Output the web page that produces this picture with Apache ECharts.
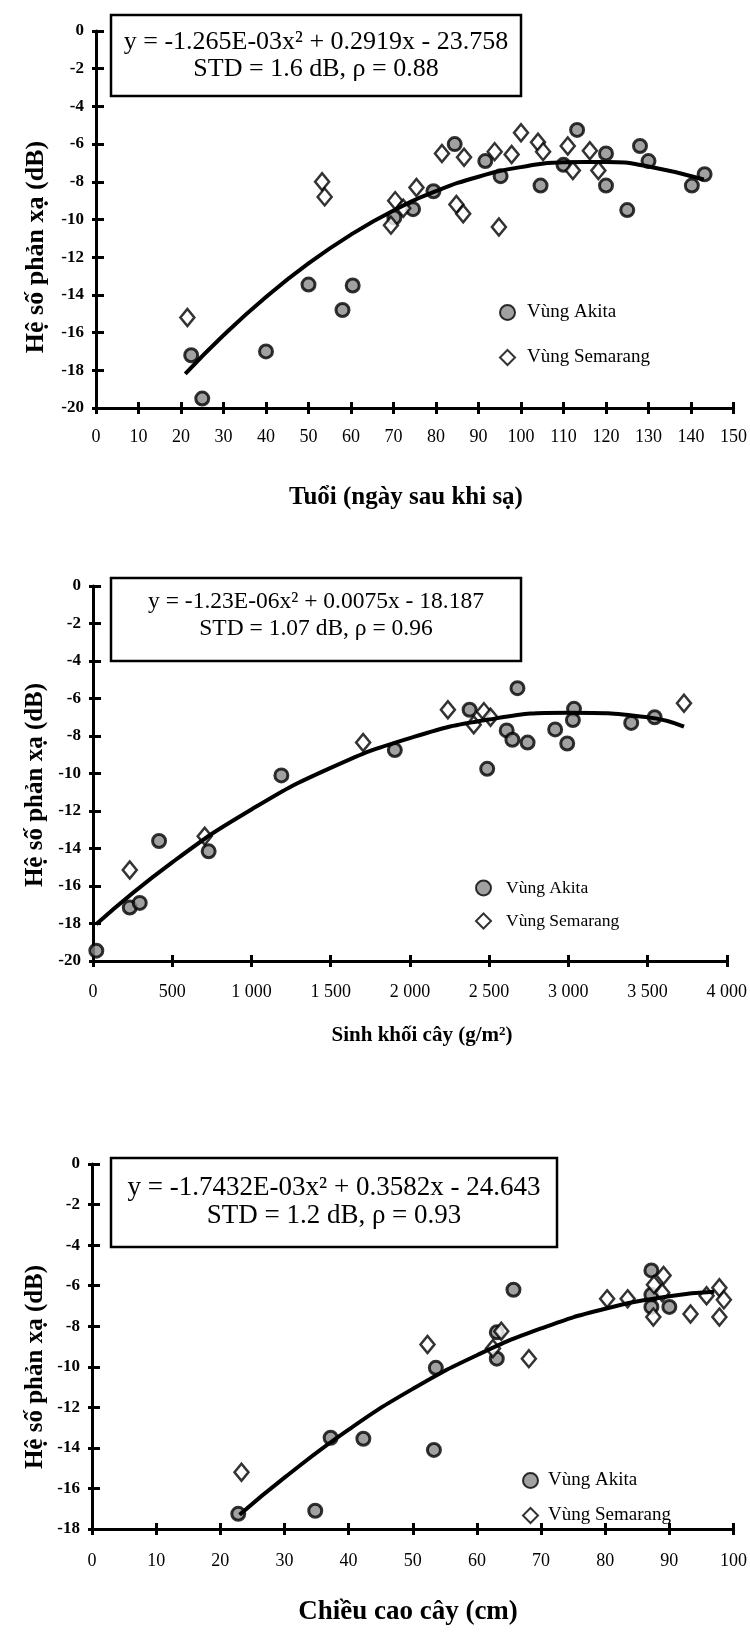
<!DOCTYPE html>
<html><head><meta charset="utf-8">
<script src="https://cdn.jsdelivr.net/npm/echarts@6/dist/echarts.min.js"></script>
<style>html,body{margin:0;padding:0;background:#fff}#c{width:750px;height:1634px}</style>
</head><body><div id="c"></div>
<script>
// ---------- Chart 1: Tuổi (ngày sau khi sạ) ----------
const ageAkitaX = [22.4, 25, 40, 50, 58, 60.4, 70.2, 74.6, 79.4, 84.4, 91.6, 95.2, 104.6, 110, 113.2, 120, 120, 125, 128, 130, 140.2, 143.2];
const ageAkitaY = [-17.2, -19.5, -17.0, -13.45, -14.8, -13.5, -9.9, -9.45, -8.5, -6.0, -6.9, -7.7, -8.2, -7.1, -5.25, -6.5, -8.2, -9.5, -6.1, -6.9, -8.2, -7.6];
const ageSemX = [21.5, 53.2, 53.8, 69.4, 70.4, 72.3, 75.4, 81.4, 84.8, 86.4, 86.6, 93.8, 94.8, 97.8, 100, 104, 105.2, 111, 112.2, 116.2, 118.2];
const ageSemY = [-15.2, -8.0, -8.8, -10.3, -9.0, -9.4, -8.3, -6.5, -9.2, -9.7, -6.7, -6.4, -10.4, -6.55, -5.4, -5.9, -6.4, -6.1, -7.4, -6.35, -7.4];
const ageFitX = [21, 30, 40, 50, 60, 70, 80, 90, 100, 110, 120, 130, 143];
const ageFitY = [-18.19, -16.14, -14.11, -12.33, -10.8, -9.52, -8.5, -7.73, -7.22, -6.96, -6.95, -7.19, -7.88];
const ageXTicks = ['0','10','20','30','40','50','60','70','80','90','100','110','120','130','140','150'];

// ---------- Chart 2: Sinh khối cây (g/m2) ----------
const bioAkitaX = [21, 232, 295, 417, 730, 1189, 1905, 2377, 2488, 2611, 2647, 2743, 2679, 2917, 2993, 3036, 3029, 3397, 3545];
const bioAkitaY = [-19.45, -17.15, -16.9, -13.6, -14.15, -10.1, -8.75, -6.6, -9.75, -7.7, -8.2, -8.35, -5.45, -7.65, -8.4, -6.55, -7.15, -7.3, -7.0];
const bioSemX = [232, 705, 1705, 2240, 2403, 2467, 2509, 3730];
const bioSemY = [-15.15, -13.35, -8.35, -6.6, -7.4, -6.7, -7.0, -6.25];
const bioFitX = [20, 500, 1000, 1500, 2000, 2500, 3000, 3500, 3730];
const bioFitY = [-18.04, -14.74, -11.92, -9.7, -8.11, -7.12, -6.76, -7.0, -7.5];
const bioXTicks = ['0','500','1 000','1 500','2 000','2 500','3 000','3 500','4 000'];

// ---------- Chart 3: Chiều cao cây (cm) ----------
const hgtAkitaX = [22.8, 34.8, 37.2, 42.3, 53.3, 53.6, 63.1, 63.1, 65.7, 87.2, 87.2, 87.2, 90];
const hgtAkitaY = [-17.25, -17.1, -13.5, -13.55, -14.1, -10.05, -8.3, -9.6, -6.2, -5.25, -6.45, -7.05, -7.05];
const hgtSemX = [23.3, 52.3, 62.5, 63.8, 68.1, 80.3, 83.5, 87.6, 89.1, 88.9, 87.5, 93.3, 95.8, 97.8, 98.5, 97.8];
const hgtSemY = [-15.2, -8.9, -9.1, -8.25, -9.6, -6.65, -6.65, -5.95, -5.5, -6.35, -7.55, -7.4, -6.5, -6.1, -6.7, -7.55];
const hgtFitX = [23, 30, 40, 50, 60, 70, 80, 90, 97];
const hgtFitY = [-17.3, -15.47, -13.1, -11.09, -9.43, -8.11, -7.14, -6.52, -6.3];
const hgtXTicks = ['0','10','20','30','40','50','60','70','80','90','100'];

const yTitle = 'Hệ số phản xạ (dB)';
const xTitles = ['Tuổi (ngày sau khi sạ)', '{b|Sinh khối cây (g/m}{s|2}{b|)}', 'Chiều cao cây (cm)'];
const eqLines = [
  ['y = -1.265E-03x² + 0.2919x - 23.758', 'STD = 1.6 dB, ρ = 0.88'],
  ['y = -1.23E-06x² + 0.0075x - 18.187', 'STD = 1.07 dB, ρ = 0.96'],
  ['y = -1.7432E-03x² + 0.3582x - 24.643', 'STD = 1.2 dB, ρ = 0.93']
];
const legendNames = ['Vùng Akita', 'Vùng Semarang'];

const SERIF = '"Liberation Serif", "Times New Roman", serif';
const pairs = (xs, ys) => xs.map((x, i) => [x, ys[i]]);

const grids = [
  { left: 96, right: 8, top: 31, height: 377 },
  { left: 93, right: 12, top: 586, height: 375 },
  { left: 92, right: 14, top: 1164, height: 365 }
];
const xSpec = [
  { min: 0, max: 150, interval: 10, labels: ageXTicks, margin: 20 },
  { min: 0, max: 4000, interval: 500, labels: bioXTicks, margin: 22 },
  { min: 0, max: 100, interval: 10, labels: hgtXTicks, margin: 23 }
];
const ySpec = [
  { min: -20, max: 0, interval: 2 },
  { min: -20, max: 0, interval: 2 },
  { min: -18, max: 0, interval: 2 }
];

const xAxes = [], yAxes = [];
xSpec.forEach((s, g) => {
  xAxes.push({
    type: 'value', gridIndex: g, position: 'bottom', min: s.min, max: s.max, interval: s.interval,
    axisLine: { show: true, onZero: false, lineStyle: { color: '#000', width: 3 } },
    axisTick: { show: true, inside: false, length: 6, lineStyle: { color: '#000', width: 3 } },
    splitLine: { show: false },
    axisLabel: { margin: s.margin, color: '#000', fontFamily: SERIF, fontSize: 18,
      formatter: (v) => s.labels[Math.round((v - s.min) / s.interval)] }
  });
  xAxes.push({
    type: 'value', gridIndex: g, position: 'bottom', min: s.min, max: s.max, interval: s.interval,
    axisLine: { show: false, onZero: false },
    axisTick: { show: true, inside: true, length: 6, lineStyle: { color: '#000', width: 3 } },
    splitLine: { show: false }, axisLabel: { show: false }
  });
});
ySpec.forEach((s, g) => {
  yAxes.push({
    type: 'value', gridIndex: g, position: 'left', min: s.min, max: s.max, interval: s.interval,
    axisLine: { show: true, onZero: false, lineStyle: { color: '#000', width: 3 } },
    axisTick: { show: true, inside: false, length: 4, lineStyle: { color: '#000', width: 3 } },
    splitLine: { show: false },
    axisLabel: { margin: 12, color: '#000', fontFamily: SERIF, fontSize: 17, fontWeight: 'bold' }
  });
  yAxes.push({
    type: 'value', gridIndex: g, position: 'left', min: s.min, max: s.max, interval: s.interval,
    axisLine: { show: false, onZero: false },
    axisTick: { show: true, inside: true, length: 8, lineStyle: { color: '#000', width: 3 } },
    splitLine: { show: false }, axisLabel: { show: false }
  });
});

const akitaStyle = { color: '#8a8a8a', borderColor: '#000', borderWidth: 3 };
const semStyle = { color: '#fff', borderColor: '#000', borderWidth: 2.5 };
const datasets = [
  [ageAkitaX, ageAkitaY, ageSemX, ageSemY, ageFitX, ageFitY],
  [bioAkitaX, bioAkitaY, bioSemX, bioSemY, bioFitX, bioFitY],
  [hgtAkitaX, hgtAkitaY, hgtSemX, hgtSemY, hgtFitX, hgtFitY]
];
const series = [];
datasets.forEach((d, g) => {
  series.push({ name: legendNames[0], type: 'scatter', xAxisIndex: 2 * g, yAxisIndex: 2 * g,
    symbol: 'circle', symbolSize: 13, itemStyle: akitaStyle, data: pairs(d[0], d[1]), z: 3 });
  series.push({ name: legendNames[1], type: 'scatter', xAxisIndex: 2 * g, yAxisIndex: 2 * g,
    symbol: 'diamond', symbolSize: [14, 17], itemStyle: semStyle, data: pairs(d[2], d[3]), z: 4 });
  series.push({ name: 'fit' + g, type: 'line', xAxisIndex: 2 * g, yAxisIndex: 2 * g, smooth: true,
    showSymbol: false, symbol: 'none', lineStyle: { color: '#000', width: 4 }, data: pairs(d[4], d[5]), z: 5 });
});

const legendPos = [
  { left: 494, top: 298, itemGap: 26, fs: 19, pad: 7 },
  { left: 470, top: 874, itemGap: 15, fs: 17.5, pad: 10 },
  { left: 517, top: 1466, itemGap: 16, fs: 19, pad: 5 }
];
const legends = legendPos.map(p => ({
  data: legendNames, orient: 'vertical', left: p.left, top: p.top, itemGap: p.itemGap,
  itemWidth: 15, itemHeight: 15, selectedMode: false,
  textStyle: { fontFamily: SERIF, fontSize: p.fs, color: '#000', padding: [0, 0, 0, p.pad] }
}));

const boxes = [
  { x: 111, y: 15, w: 410, h: 81, cx: 316, l1: 42, l2: 69, fs: 26 },
  { x: 111, y: 578, w: 410, h: 83, cx: 316, l1: 602, l2: 629, fs: 23.5 },
  { x: 111, y: 1158, w: 446, h: 89, cx: 334, l1: 1188, l2: 1216, fs: 27 }
];
const graphic = [];
boxes.forEach((b, i) => {
  graphic.push({ type: 'rect', shape: { x: b.x, y: b.y, width: b.w, height: b.h },
    style: { fill: '#fff', stroke: '#000', lineWidth: 2.5 }, z: 10 });
  graphic.push({ type: 'text', x: b.cx, y: b.l1, z: 11,
    style: { text: eqLines[i][0], fontFamily: SERIF, fontSize: b.fs, fill: '#000', textAlign: 'center', textVerticalAlign: 'middle' } });
  graphic.push({ type: 'text', x: b.cx, y: b.l2, z: 11,
    style: { text: eqLines[i][1], fontFamily: SERIF, fontSize: b.fs, fill: '#000', textAlign: 'center', textVerticalAlign: 'middle' } });
});
[{ cy: 247, fs: 26 }, { cy: 785, fs: 25 }, { cy: 1367, fs: 25 }].forEach(t => {
  graphic.push({ type: 'text', x: 36, y: t.cy, rotation: Math.PI / 2, z: 11,
    style: { text: yTitle, fontFamily: SERIF, fontSize: t.fs, fontWeight: 'bold', fill: '#000', textAlign: 'center', textVerticalAlign: 'middle' } });
});
graphic.push({ type: 'text', x: 406, y: 498, z: 11,
  style: { text: xTitles[0], fontFamily: SERIF, fontSize: 25, fontWeight: 'bold', fill: '#000', textAlign: 'center', textVerticalAlign: 'middle' } });
graphic.push({ type: 'text', x: 422, y: 1036, z: 11,
  style: { rich: { b: { fontFamily: SERIF, fontSize: 21, fontWeight: 'bold', fill: '#000' },
                   s: { fontFamily: SERIF, fontSize: 13, fontWeight: 'bold', fill: '#000', verticalAlign: 'top', padding: [0, 0, 8, 0] } },
           text: xTitles[1], textAlign: 'center', textVerticalAlign: 'middle' } });
graphic.push({ type: 'text', x: 408, y: 1612, z: 11,
  style: { text: xTitles[2], fontFamily: SERIF, fontSize: 27, fontWeight: 'bold', fill: '#000', textAlign: 'center', textVerticalAlign: 'middle' } });

const chart = echarts.init(document.getElementById('c'), null, { renderer: 'canvas' });
chart.setOption({
  animation: false,
  backgroundColor: '#fff',
  grid: grids,
  xAxis: xAxes,
  yAxis: yAxes,
  legend: legends,
  series: series,
  graphic: graphic
});
</script></body></html>
